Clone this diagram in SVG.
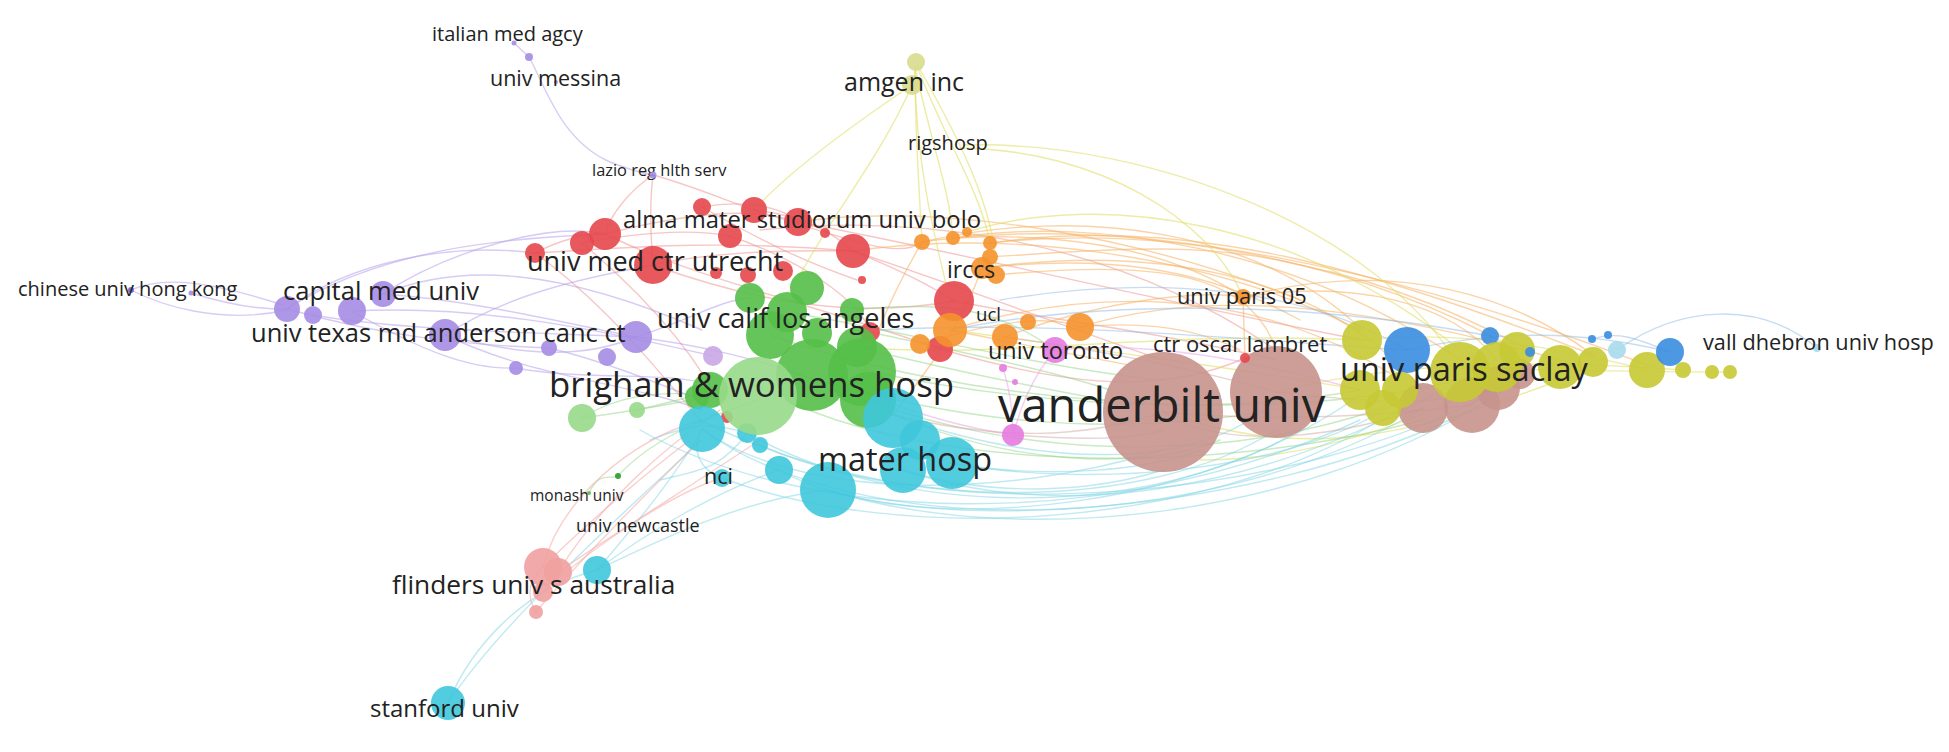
<svg xmlns="http://www.w3.org/2000/svg" width="1949" height="752" viewBox="0 0 1949 752">
<style>
.e{fill:none;stroke-width:1.4;stroke-linecap:round}
.ep{stroke:#b7a3ea;opacity:.55}
.er{stroke:#ee8f8c;opacity:.5}
.eg{stroke:#88d07a;opacity:.45}
.ec{stroke:#7fd6e4;opacity:.5}
.eo{stroke:#f6b061;opacity:.55}
.ey{stroke:#e1df6a;opacity:.6}
.eb{stroke:#8fb9e6;opacity:.5}
.es{stroke:#f3aaa6;opacity:.55}
.ek{stroke:#eba0e6;opacity:.5}
.en{stroke:#cfa9a2;opacity:.5}
circle{opacity:.9}
.np{fill:#a58ce3}.nr{fill:#e6474c}.ng{fill:#55bf48}.nl{fill:#98d98a}.nc{fill:#3fc6db}
.ns{fill:#f0a1a0}.no{fill:#f5922e}.nk{fill:#e47be0}.nn{fill:#c7948c}.ny{fill:#c6c934}
.nb{fill:#3a8de0}.nq{fill:#a6dcec}.na{fill:#d7dc8c}.nv{fill:#c9a6e6}
.t{font-family:"Open Sans","Liberation Sans",sans-serif;fill:#222}
</style>
<rect width="1949" height="752" fill="#ffffff"/>
<g id="connectors">
<!-- purple -->
<path class="e ep" d="M131,290 C160,305 220,325 287,310"/>
<path class="e ep" d="M131,290 C170,272 230,288 283,305"/>
<path class="e ep" d="M191,293 C230,305 260,310 287,309"/>
<path class="e ep" d="M287,309 C380,250 500,238 605,234"/>
<path class="e ep" d="M287,309 C350,262 450,242 535,253"/>
<path class="e ep" d="M383,294 C450,250 550,222 605,234"/>
<path class="e ep" d="M445,335 C500,300 560,282 653,265"/>
<path class="e ep" d="M383,294 C460,262 560,268 702,330"/>
<path class="e ep" d="M383,294 C470,300 550,320 636,337"/>
<path class="e ep" d="M287,309 C380,335 460,345 549,348"/>
<path class="e ep" d="M352,311 C420,350 470,370 516,368"/>
<path class="e ep" d="M445,335 C520,355 580,360 636,337"/>
<path class="e ep" d="M313,315 C400,330 520,332 636,337"/>
<path class="e ep" d="M352,311 C470,305 580,325 713,356"/>
<path class="e ep" d="M636,337 C700,345 760,360 800,375"/>
<path class="e ep" d="M636,337 C690,320 720,300 750,298"/>
<path class="e ep" d="M516,368 C580,380 650,372 700,382"/>
<path class="e ep" d="M445,335 C540,380 620,380 702,410"/>
<path class="e ep" d="M549,348 C600,360 650,380 700,400"/>
<path class="e ep" d="M514,43 L529,57"/>
<path class="e ep" d="M529,57 C545,85 560,140 610,162 C635,172 648,174 653,175"/>
<path class="e er" d="M653,175 C630,190 610,215 605,234"/>
<path class="e er" d="M653,175 C690,185 725,200 754,210"/>
<path class="e er" d="M653,175 C650,200 650,230 653,265"/>
<!-- red -->
<path class="e er" d="M535,253 C560,240 580,235 605,234"/>
<path class="e er" d="M535,253 C600,250 700,238 853,251"/>
<path class="e er" d="M605,234 C680,215 750,205 798,222"/>
<path class="e er" d="M582,243 C650,230 700,230 730,236"/>
<path class="e er" d="M653,265 C720,250 800,250 853,251"/>
<path class="e er" d="M702,207 C740,200 780,205 798,222"/>
<path class="e er" d="M754,210 C800,215 830,230 853,251"/>
<path class="e er" d="M853,251 C900,270 930,285 954,301"/>
<path class="e er" d="M605,234 C700,280 800,300 940,349"/>
<path class="e er" d="M653,265 C750,300 850,320 954,301"/>
<path class="e er" d="M582,243 C650,300 700,360 727,417"/>
<path class="e er" d="M535,253 C600,300 650,360 700,420"/>
<path class="e er" d="M853,251 C1000,300 1100,340 1163,360"/>
<path class="e er" d="M954,301 C1050,320 1150,330 1276,360"/>
<path class="e er" d="M798,222 C950,250 1150,300 1362,340"/>
<path class="e er" d="M940,349 C1050,380 1150,400 1245,358"/>
<path class="e er" d="M754,210 C850,240 900,260 922,242"/>
<path class="e er" d="M760,230 C900,215 1100,230 1276,350"/>
<path class="e er" d="M730,236 C800,260 860,300 870,332"/>
<path class="e er" d="M702,207 C760,240 800,260 857,280"/>
<!-- orange -->
<path class="e eo" d="M953,238 C1100,215 1300,250 1460,360"/>
<path class="e eo" d="M990,243 C1150,225 1350,255 1517,350"/>
<path class="e eo" d="M982,268 C1150,245 1320,270 1423,390"/>
<path class="e eo" d="M922,242 C1080,205 1260,230 1362,330"/>
<path class="e eo" d="M1005,337 C1100,300 1200,290 1243,297"/>
<path class="e eo" d="M950,330 C1080,290 1250,280 1400,380"/>
<path class="e eo" d="M1080,327 C1200,290 1350,300 1560,360"/>
<path class="e eo" d="M996,275 C1150,260 1250,270 1276,350"/>
<path class="e eo" d="M1243,297 C1350,280 1450,300 1497,360"/>
<path class="e eo" d="M1243,297 C1400,255 1520,300 1593,355"/>
<path class="e eo" d="M1243,297 L1245,358"/>
<path class="e eo" d="M990,257 C1100,250 1200,240 1300,265 C1400,285 1470,320 1530,350"/>
<path class="e eo" d="M920,344 C1000,320 1050,315 1080,327"/>
<path class="e eo" d="M922,242 C900,280 880,320 864,370"/>
<path class="e eo" d="M982,268 C960,330 920,380 893,415"/>
<path class="e eo" d="M798,222 C950,200 1150,240 1300,300"/>
<path class="e eo" d="M853,251 C1000,230 1200,250 1360,330"/>
<path class="e eo" d="M922,242 C1000,230 1150,235 1243,297"/>
<path class="e eo" d="M982,268 C1100,255 1200,265 1300,320"/>
<path class="e eo" d="M990,243 C1200,212 1400,280 1593,355"/>
<path class="e eo" d="M953,238 C1150,218 1400,270 1647,365"/>
<path class="e eo" d="M1080,327 C1150,320 1200,330 1240,350"/>
<path class="e eo" d="M950,330 C1050,350 1100,360 1130,365"/>
<!-- yellow -->
<path class="e ey" d="M915,66 C915,140 920,200 922,242"/>
<path class="e ey" d="M915,66 C930,140 950,190 953,238"/>
<path class="e ey" d="M917,66 C945,140 980,190 990,243"/>
<path class="e ey" d="M918,66 C960,140 995,210 996,270"/>
<path class="e ey" d="M912,85 C860,120 790,170 754,210"/>
<path class="e ey" d="M912,85 C880,160 820,230 787,300"/>
<path class="e ey" d="M915,70 C915,160 935,240 950,300"/>
<path class="e ey" d="M960,148 C1100,150 1210,220 1243,297"/>
<path class="e ey" d="M965,145 C1150,140 1380,230 1460,368"/>
<path class="e ey" d="M967,232 C1100,190 1300,220 1460,350"/>
<path class="e ey" d="M1362,340 C1450,330 1550,345 1647,370"/>
<path class="e ey" d="M1460,368 C1550,370 1650,372 1730,372"/>
<path class="e ey" d="M1276,392 C1400,360 1550,360 1683,370"/>
<path class="e ey" d="M1163,412 C1300,460 1400,440 1560,380"/>
<path class="e ey" d="M857,347 C1000,360 1150,330 1362,340"/>
<path class="e ey" d="M950,330 C1100,350 1250,370 1360,390"/>
<path class="e ey" d="M1200,460 C1300,460 1400,430 1497,380"/>
<!-- green -->
<path class="e eg" d="M800,375 C950,420 1100,440 1276,410"/>
<path class="e eg" d="M864,370 C1000,400 1200,420 1360,390"/>
<path class="e eg" d="M787,312 C900,330 1050,370 1163,380"/>
<path class="e eg" d="M757,385 C900,470 1200,480 1423,420"/>
<path class="e eg" d="M770,335 C950,400 1250,430 1460,380"/>
<path class="e eg" d="M873,402 C1000,450 1200,470 1383,408"/>
<path class="e eg" d="M582,418 C640,410 700,400 757,385"/>
<path class="e eg" d="M618,476 C650,440 700,420 757,400"/>
<path class="e eg" d="M589,493 C600,470 610,480 618,476"/>
<path class="e eg" d="M637,410 C680,400 700,395 710,390"/>
<path class="e eg" d="M852,310 C950,300 1000,310 1055,350"/>
<path class="e eg" d="M870,332 C950,350 1050,370 1110,390"/>
<path class="e eg" d="M857,347 C950,370 1050,390 1105,400"/>
<path class="e eg" d="M864,400 C1000,470 1150,470 1220,440"/>
<path class="e eg" d="M700,395 C650,390 610,400 582,418"/>
<!-- cyan -->
<path class="e ec" d="M702,429 C850,540 1200,540 1420,410"/>
<path class="e ec" d="M779,470 C900,540 1250,520 1470,410"/>
<path class="e ec" d="M828,490 C950,530 1200,510 1360,395"/>
<path class="e ec" d="M903,470 C1050,520 1250,500 1460,380"/>
<path class="e ec" d="M950,463 C1100,490 1300,470 1400,400"/>
<path class="e ec" d="M893,415 C1050,470 1200,470 1276,400"/>
<path class="e ec" d="M702,429 C800,500 1000,500 1163,450"/>
<path class="e ec" d="M747,433 C900,520 1150,520 1300,430"/>
<path class="e ec" d="M722,478 C900,545 1200,530 1380,420"/>
<path class="e ec" d="M700,420 C900,520 1150,510 1276,430"/>
<path class="e ec" d="M760,445 C950,530 1300,500 1497,390"/>
<path class="e ec" d="M828,490 C1000,545 1300,530 1520,380"/>
<path class="e ec" d="M640,430 C800,520 1100,540 1360,420"/>
<path class="e ec" d="M950,463 C1050,480 1150,470 1200,450"/>
<path class="e ec" d="M903,470 C1000,500 1100,490 1163,470"/>
<path class="e ec" d="M448,703 C470,650 520,590 597,570"/>
<path class="e ec" d="M448,703 C490,640 560,570 702,440"/>
<path class="e ec" d="M597,570 C640,520 680,470 702,429"/>
<path class="e ec" d="M597,570 C650,530 720,490 779,470"/>
<path class="e ec" d="M597,570 C660,540 740,500 828,490"/>
<path class="e ec" d="M722,478 C700,470 690,450 702,429"/>
<path class="e ec" d="M650,440 C700,420 720,425 747,433"/>
<path class="e ec" d="M660,480 C700,470 720,470 747,433"/>
<!-- salmon -->
<path class="e es" d="M543,567 C560,500 630,440 702,420"/>
<path class="e es" d="M558,572 C600,505 660,450 720,410"/>
<path class="e es" d="M536,612 C525,595 530,578 543,567"/>
<path class="e es" d="M543,567 C590,520 650,470 690,440"/>
<path class="e es" d="M558,572 C620,530 700,480 760,440"/>
<path class="e es" d="M543,592 C600,540 680,490 722,478"/>
<path class="e es" d="M536,612 C580,560 640,500 700,440"/>
<!-- blue -->
<path class="e eb" d="M1407,350 C1500,330 1580,330 1670,352"/>
<path class="e eb" d="M1617,350 C1680,305 1760,300 1817,348"/>
<path class="e eb" d="M1592,339 C1620,330 1640,340 1670,352"/>
<path class="e eb" d="M1000,300 C1150,275 1300,285 1407,350"/>
<path class="e eb" d="M950,330 C1100,300 1300,300 1490,336"/>
<path class="e eb" d="M880,330 C1050,320 1250,340 1407,350"/>
<!-- pink / brown -->
<path class="e ek" d="M1055,350 C1030,380 1020,410 1013,435"/>
<path class="e ek" d="M1055,350 C1150,340 1250,360 1360,390"/>
<path class="e ek" d="M1003,368 C1010,390 1013,410 1013,435"/>
<path class="e ek" d="M870,395 C930,420 980,430 1013,435"/>
<path class="e en" d="M1163,412 C1250,420 1350,420 1472,405"/>
<path class="e en" d="M1276,392 C1350,400 1420,410 1498,388"/>
<path class="e en" d="M893,415 C1000,440 1080,440 1163,412"/>
<path class="e en" d="M1163,412 C1200,440 1300,450 1423,408"/>
<path class="e en" d="M1013,435 C1080,440 1130,440 1163,430"/>
<path class="e en" d="M1005,337 C1100,350 1200,370 1276,392"/>
</g>
<g id="nodes">
<!-- purple -->
<g id="n-p1"><circle class="np" cx="131" cy="290" r="3" style="fill:#7c5fcb"/></g>
<g id="n-p2"><circle class="np" cx="191" cy="293" r="2.5"/></g>
<g id="n-p3"><circle class="np" cx="529" cy="57" r="4"/></g>
<g id="n-p5"><circle class="np" cx="313" cy="315" r="9"/></g>
<g id="n-p6"><circle class="np" cx="352" cy="311" r="14"/></g>
<g id="n-p8"><circle class="np" cx="445" cy="335" r="16"/></g>
<g id="n-p9"><circle class="np" cx="549" cy="348" r="8"/></g>
<g id="n-p10"><circle class="np" cx="516" cy="368" r="7"/></g>
<g id="n-p11"><circle class="np" cx="607" cy="357" r="9"/></g>
<g id="n-p12"><circle class="np" cx="636" cy="337" r="16"/></g>
<g id="n-p13"><circle class="nv" cx="713" cy="356" r="10"/></g>
<!-- red -->
<g id="n-r1"><circle class="nr" cx="535" cy="253" r="10"/></g>
<g id="n-r2"><circle class="nr" cx="582" cy="243" r="12"/></g>
<g id="n-r3"><circle class="nr" cx="605" cy="234" r="16"/></g>
<g id="n-r5"><circle class="nr" cx="702" cy="207" r="9"/></g>
<g id="n-r6"><circle class="nr" cx="754" cy="210" r="13"/></g>
<g id="n-r7"><circle class="nr" cx="730" cy="236" r="12"/></g>
<g id="n-r8"><circle class="nr" cx="798" cy="222" r="14"/></g>
<g id="n-r9"><circle class="nr" cx="825" cy="233" r="5"/></g>
<g id="n-r10"><circle class="nr" cx="853" cy="251" r="17"/></g>
<g id="n-r11"><circle class="nr" cx="716" cy="273" r="6"/></g>
<g id="n-r12"><circle class="nr" cx="748" cy="275" r="8"/></g>
<g id="n-r13"><circle class="nr" cx="783" cy="271" r="10"/></g>
<g id="n-r14"><circle class="nr" cx="862" cy="280" r="4"/></g>
<g id="n-r15"><circle class="nr" cx="954" cy="301" r="20"/></g>
<g id="n-r16"><circle class="nr" cx="940" cy="349" r="13"/></g>
<g id="n-r17"><circle class="nr" cx="870" cy="332" r="10"/></g>
<g id="n-r18"><circle class="nr" cx="727" cy="417" r="6"/></g>
<!-- orange -->
<g id="n-o1"><circle class="no" cx="922" cy="242" r="8"/></g>
<g id="n-o2"><circle class="no" cx="953" cy="238" r="7"/></g>
<g id="n-o3"><circle class="no" cx="967" cy="232" r="5"/></g>
<g id="n-o4"><circle class="no" cx="990" cy="243" r="7"/></g>
<g id="n-o5"><circle class="no" cx="990" cy="257" r="8"/></g>
<g id="n-o7"><circle class="no" cx="996" cy="275" r="9"/></g>
<g id="n-o8"><circle class="no" cx="950" cy="330" r="17"/></g>
<g id="n-o9"><circle class="no" cx="920" cy="344" r="10"/></g>
<g id="n-o10"><circle class="no" cx="1005" cy="337" r="13"/></g>
<g id="n-o11"><circle class="no" cx="1028" cy="322" r="8"/></g>
<g id="n-o12"><circle class="no" cx="1080" cy="327" r="14"/></g>
<!-- green -->
<g id="n-g1"><circle class="ng" cx="807" cy="288" r="17"/></g>
<g id="n-g2"><circle class="ng" cx="750" cy="298" r="15"/></g>
<g id="n-g3"><circle class="ng" cx="787" cy="312" r="20"/></g>
<g id="n-g4"><circle class="ng" cx="770" cy="335" r="24"/></g>
<g id="n-g5"><circle class="ng" cx="852" cy="310" r="12"/></g>
<g id="n-g6"><circle class="ng" cx="857" cy="347" r="20"/></g>
<g id="n-g7"><circle class="ng" cx="817" cy="333" r="15"/></g>
<g id="n-g8"><circle class="ng" cx="710" cy="390" r="18"/></g>
<g id="n-g9"><circle class="ng" cx="697" cy="397" r="12"/></g>
<g id="n-g10"><circle class="ng" cx="862" cy="372" r="34"/></g>
<g id="n-g11"><circle class="ng" cx="868" cy="400" r="28"/></g>
<g id="n-g12"><circle class="ng" cx="812" cy="375" r="36"/></g>
<g id="n-g14"><circle class="nl" cx="582" cy="418" r="14"/></g>
<g id="n-g15"><circle class="nl" cx="637" cy="410" r="8"/></g>
<g id="n-g16"><circle class="ng" cx="618" cy="476" r="3" style="fill:#2f9a2a"/></g>
<g id="n-g17"><circle class="ng" cx="589" cy="493" r="2"/></g>
<!-- cyan -->
<g id="n-c1"><circle class="nc" cx="702" cy="429" r="23"/></g>
<g id="n-c2"><circle class="nc" cx="747" cy="433" r="10"/></g>
<g id="n-c3"><circle class="nc" cx="779" cy="470" r="14"/></g>
<g id="n-c4"><circle class="nc" cx="828" cy="490" r="28"/></g>
<g id="n-c5"><circle class="nc" cx="893" cy="418" r="30"/></g>
<g id="n-c6"><circle class="nc" cx="920" cy="440" r="20"/></g>
<g id="n-c7"><circle class="nc" cx="903" cy="470" r="23"/></g>
<g id="n-c8"><circle class="nc" cx="952" cy="463" r="26"/></g>
<g id="n-c9"><circle class="nc" cx="760" cy="445" r="8"/></g>
<g id="n-c11"><circle class="nc" cx="597" cy="570" r="14"/></g>
<g id="n-g13"><circle class="nl" cx="758" cy="396" r="39"/></g>
<!-- salmon -->
<g id="n-s1"><circle class="ns" cx="543" cy="567" r="19"/></g>
<g id="n-s2"><circle class="ns" cx="558" cy="572" r="14"/></g>
<g id="n-s3"><circle class="ns" cx="543" cy="592" r="10"/></g>
<g id="n-s4"><circle class="ns" cx="536" cy="612" r="7"/></g>
<!-- pink -->
<g id="n-k2"><circle class="nk" cx="1013" cy="435" r="11"/></g>
<g id="n-k3"><circle class="nk" cx="1003" cy="368" r="4"/></g>
<g id="n-k4"><circle class="nk" cx="1015" cy="382" r="3"/></g>
<!-- right cluster -->
<g id="n-b1"><circle class="nn" cx="1276" cy="392" r="46"/></g>
<g id="n-b2"><circle class="nn" cx="1423" cy="408" r="25"/></g>
<g id="n-b3"><circle class="nn" cx="1472" cy="405" r="28"/></g>
<g id="n-b4"><circle class="nn" cx="1498" cy="388" r="22"/></g>
<g id="n-b5"><circle class="nn" cx="1520" cy="374" r="15"/></g>
<g id="n-y1"><circle class="ny" cx="1362" cy="340" r="20"/></g>
<g id="n-y2"><circle class="ny" cx="1360" cy="390" r="20"/></g>
<g id="n-y3"><circle class="ny" cx="1383" cy="408" r="18"/></g>
<g id="n-u1"><circle class="nb" cx="1407" cy="350" r="23"/></g>
<g id="n-y4"><circle class="ny" cx="1400" cy="390" r="18"/></g>
<g id="n-u2"><circle class="nb" cx="1490" cy="336" r="9"/></g>
<g id="n-y5"><circle class="ny" cx="1460" cy="372" r="30"/></g>
<g id="n-y6"><circle class="ny" cx="1497" cy="367" r="25"/></g>
<g id="n-y7"><circle class="ny" cx="1517" cy="350" r="18"/></g>
<g id="n-y8"><circle class="ny" cx="1560" cy="367" r="22"/></g>
<g id="n-u3"><circle class="nb" cx="1530" cy="352" r="5"/></g>
<g id="n-y9"><circle class="ny" cx="1593" cy="362" r="15"/></g>
<g id="n-u4"><circle class="nb" cx="1592" cy="339" r="4"/></g>
<g id="n-u5"><circle class="nb" cx="1608" cy="335" r="4"/></g>
<g id="n-q1"><circle class="nq" cx="1617" cy="350" r="9"/></g>
<g id="n-y10"><circle class="ny" cx="1647" cy="370" r="18"/></g>
<g id="n-u6"><circle class="nb" cx="1670" cy="352" r="14"/></g>
<g id="n-y11"><circle class="ny" cx="1683" cy="370" r="8"/></g>
<g id="n-y12"><circle class="ny" cx="1712" cy="372" r="7"/></g>
<g id="n-y13"><circle class="ny" cx="1730" cy="372" r="7"/></g>
<g id="n-amgen2"><circle class="na" cx="912" cy="85" r="10"/></g>
</g>
<g id="labeled-nodes">
<g id="vanderbilt-univ"><circle class="nn" cx="1163" cy="412" r="60"/><text class="t" x="998" y="422" font-size="47">vanderbilt univ</text></g>
<g id="italian-med-agcy"><circle class="np" cx="514" cy="43" r="2.5"/><text class="t" x="432" y="41" font-size="20">italian med agcy</text></g>
<g id="univ-messina"><circle class="np" cx="556" cy="82" r="2"/><text class="t" x="490" y="86" font-size="21.5">univ messina</text></g>
<g id="lazio-reg-hlth-serv"><text class="t" x="592" y="176" font-size="16.4">lazio reg hlth serv</text><circle class="np" cx="653" cy="175" r="3.5"/></g>
<g id="amgen-inc"><circle class="na" cx="916" cy="62" r="9"/><text class="t" x="844" y="91" font-size="25">amgen inc</text></g>
<g id="rigshosp"><text class="t" x="908" y="150" font-size="20">rigshosp</text></g>
<g id="alma-mater-studiorum-univ-bolo"><text class="t" x="623" y="228" font-size="23.8">alma mater studiorum univ bolo</text></g>
<g id="univ-med-ctr-utrecht"><circle class="nr" cx="653" cy="265" r="19"/><text class="t" x="527" y="271" font-size="27">univ med ctr utrecht</text></g>
<g id="irccs"><circle class="no" cx="982" cy="268" r="11"/><text class="t" x="947" y="278" font-size="23">irccs</text></g>
<g id="chinese-univ-hong-kong"><text class="t" x="18" y="296" font-size="20">chinese univ hong kong</text></g>
<g id="capital-med-univ"><circle class="np" cx="287" cy="309" r="13"/><circle class="np" cx="383" cy="294" r="13"/><text class="t" x="283" y="300" font-size="25.6">capital med univ</text></g>
<g id="univ-texas-md-anderson-canc-ct"><text class="t" x="251" y="342" font-size="25.5">univ texas md anderson canc ct</text></g>
<g id="univ-calif-los-angeles"><text class="t" x="657" y="328" font-size="27">univ calif los angeles</text></g>
<g id="brigham-womens-hosp"><text class="t" x="549" y="397" font-size="34.7">brigham &amp; womens hosp</text></g>
<g id="mater-hosp"><text class="t" x="818" y="471" font-size="32.4">mater hosp</text></g>
<g id="nci"><circle class="nc" cx="722" cy="478" r="9"/><text class="t" x="704" y="484" font-size="21.6">nci</text></g>
<g id="monash-univ"><text class="t" x="530" y="501" font-size="15.5">monash univ</text></g>
<g id="univ-newcastle"><text class="t" x="576" y="532" font-size="18">univ newcastle</text></g>
<g id="flinders-univ-s-australia"><text class="t" x="392" y="594" font-size="26.3">flinders univ s australia</text></g>
<g id="stanford-univ"><circle class="nc" cx="448" cy="703" r="17"/><text class="t" x="370" y="717" font-size="24">stanford univ</text></g>
<g id="univ-paris-05"><circle class="no" cx="1243" cy="297" r="8"/><text class="t" x="1177" y="304" font-size="21.8">univ paris 05</text></g>
<g id="ucl"><text class="t" x="976" y="321" font-size="18.6">ucl</text></g>
<g id="univ-toronto"><circle class="nk" cx="1055" cy="350" r="13"/><text class="t" x="988" y="359" font-size="23.4">univ toronto</text></g>
<g id="ctr-oscar-lambret"><circle class="nr" cx="1245" cy="358" r="5"/><text class="t" x="1153" y="352" font-size="21.9">ctr oscar lambret</text></g>
<g id="univ-paris-saclay"><text class="t" x="1340" y="381" font-size="32.5">univ paris saclay</text></g>
<g id="vall-dhebron-univ-hosp"><circle class="nq" cx="1817" cy="348" r="4"/><text class="t" x="1703" y="350" font-size="21.7">vall dhebron univ hosp</text></g>
</g>
</svg>
